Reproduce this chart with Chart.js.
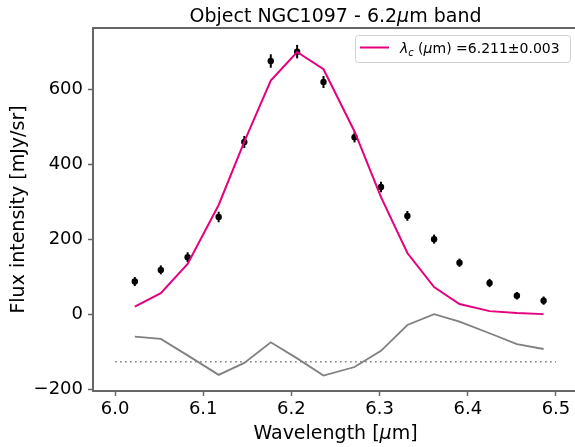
<!DOCTYPE html>
<html>
<head>
<meta charset="utf-8">
<script src="https://cdn.jsdelivr.net/npm/chart.js@4.4.1/dist/chart.umd.min.js"></script>
<style>
  html, body { margin: 0; padding: 0; background: #fff; overflow: hidden; }
  #wrap { width: 575px; height: 447px; overflow: hidden; }
</style>
</head>
<body>
<div id="wrap"><canvas id="chart" width="582" height="447"></canvas></div>
<script>
// values
const wavelengths = [6.0224, 6.0519, 6.0823, 6.1175, 6.1466, 6.1766, 6.2065, 6.2364,
                     6.2716, 6.3016, 6.3315, 6.3618, 6.3906, 6.4247, 6.4557, 6.4860];
const flux     = [87, 118, 152, 259, 459, 675, 700, 619, 472, 339, 262, 200, 137, 83, 49, 36];
const fluxErr  = [12, 12, 13, 14, 16, 18, 18, 16, 14, 14, 13, 12, 11, 11, 10, 11];
const model    = [20, 56, 134, 291, 460, 623, 699, 653, 487, 312, 163, 72, 27, 8, 3, 0];
const residual = [-60, -66, -110, -162, -130, -75, -118, -164, -141, -98, -29, 0, -20, -51, -80, -93];
const baselineX = [6.0, 6.5];
const baselineY = [-127, -127];

const xTicks = [6.0, 6.1, 6.2, 6.3, 6.4, 6.5];
const yTicks = [-200, 0, 200, 400, 600];

const FONT = 'DejaVu Sans';
const MAGENTA = '#e6007e';
const AXIS = '#666';

const pts = (xs, ys) => xs.map((v, i) => ({ x: v, y: ys[i] }));

// draw a string made of normal / italic / subscript pieces
function drawParts(ctx, parts, x, y, size, align) {
  const fontOf = p => (p.it ? 'italic ' : '') + (p.sub ? size * 0.7 : size) + 'px "' + FONT + '"';
  let total = 0;
  parts.forEach(p => { ctx.font = fontOf(p); total += ctx.measureText(p.t).width; });
  let cx = align === 'center' ? x - total / 2 : x;
  ctx.textAlign = 'left';
  ctx.textBaseline = 'alphabetic';
  parts.forEach(p => {
    ctx.font = fontOf(p);
    ctx.fillText(p.t, cx, y + (p.sub ? size * 0.22 : 0));
    cx += ctx.measureText(p.t).width;
  });
}

const errorBars = {
  id: 'errorBars',
  beforeDatasetsDraw(chart) {
    const { ctx, scales: { x, y } } = chart;
    ctx.save();
    ctx.strokeStyle = '#000';
    ctx.lineWidth = 2;
    wavelengths.forEach((w, i) => {
      const px = x.getPixelForValue(w);
      ctx.beginPath();
      ctx.moveTo(px, y.getPixelForValue(flux[i] - fluxErr[i]));
      ctx.lineTo(px, y.getPixelForValue(flux[i] + fluxErr[i]));
      ctx.stroke();
    });
    ctx.restore();
  }
};

const decorations = {
  id: 'decorations',
  afterDraw(chart) {
    const { ctx, chartArea: a } = chart;
    ctx.save();
    // the right spine sits outside the visible window in the reference
    ctx.fillStyle = '#fff';
    ctx.fillRect(571, a.top + 2, chart.width - 571, a.bottom - a.top - 4);

    // top spine
    ctx.strokeStyle = AXIS;
    ctx.lineWidth = 2;
    ctx.beginPath();
    ctx.moveTo(a.left - 1, a.top);
    ctx.lineTo(chart.width, a.top);
    ctx.stroke();

    ctx.fillStyle = '#000';
    const midX = (a.left + a.right) / 2;
    // title
    drawParts(ctx, [{ t: 'Object NGC1097 - 6.2' }, { t: 'μ', it: true }, { t: 'm band' }], midX, 21.5, 19, 'center');
    // x axis title
    drawParts(ctx, [{ t: 'Wavelength [' }, { t: 'μ', it: true }, { t: 'm]' }], midX, 438.5, 19, 'center');
    // y axis title
    ctx.save();
    ctx.translate(24, (a.top + a.bottom) / 2);
    ctx.rotate(-Math.PI / 2);
    drawParts(ctx, [{ t: 'Flux intensity [mJy/sr]' }], 0, 0, 19, 'center');
    ctx.restore();

    // legend
    const lx = 355, ly = 35, lw = 215, lh = 27;
    ctx.fillStyle = 'rgba(255,255,255,0.85)';
    ctx.strokeStyle = '#d0d0d0';
    ctx.lineWidth = 1;
    ctx.beginPath();
    ctx.roundRect(lx + 0.5, ly + 0.5, lw, lh, 3);
    ctx.fill();
    ctx.stroke();
    ctx.strokeStyle = MAGENTA;
    ctx.lineWidth = 2;
    ctx.beginPath();
    ctx.moveTo(360, 47.5);
    ctx.lineTo(389, 47.5);
    ctx.stroke();
    ctx.fillStyle = '#000';
    drawParts(ctx, [
      { t: 'λ', it: true }, { t: 'c', it: true, sub: true }, { t: ' (' },
      { t: 'μ', it: true }, { t: 'm) =6.211±0.003' }
    ], 400, 52.5, 14, 'left');
    ctx.restore();
  }
};

new Chart(document.getElementById('chart'), {
  type: 'scatter',
  data: {
    datasets: [
      {
        type: 'line',
        data: pts(wavelengths, model),
        borderColor: MAGENTA,
        borderWidth: 2,
        pointRadius: 0,
        tension: 0,
        order: 0
      },
      {
        type: 'scatter',
        data: pts(wavelengths, flux),
        backgroundColor: '#000',
        borderWidth: 0,
        pointRadius: 3.2,
        order: 1
      },
      {
        type: 'line',
        data: pts(wavelengths, residual),
        borderColor: '#808080',
        borderWidth: 1.8,
        pointRadius: 0,
        tension: 0,
        order: 2
      },
      {
        type: 'line',
        data: pts(baselineX, baselineY),
        borderColor: '#808080',
        borderWidth: 1.6,
        borderDash: [1.6, 3.4],
        pointRadius: 0,
        order: 3
      }
    ]
  },
  options: {
    responsive: false,
    animation: false,
    layout: { padding: { top: 28, right: 1, left: 0, bottom: 0 } },
    plugins: {
      legend: { display: false },
      title: { display: false },
      tooltip: { enabled: false }
    },
    scales: {
      x: {
        type: 'linear',
        min: 5.975,
        max: 6.525,
        afterBuildTicks: s => { s.ticks = xTicks.map(v => ({ value: v })); },
        afterFit: s => { s.height = 56; },
        grid: { drawOnChartArea: false, drawTicks: true, tickLength: 5, tickColor: AXIS, tickWidth: 1.5 },
        border: { display: true, color: AXIS, width: 2 },
        ticks: {
          color: '#000',
          padding: 3,
          font: { family: FONT, size: 18 },
          callback: v => v.toFixed(1)
        }
      },
      y: {
        type: 'linear',
        min: -205,
        max: 763,
        afterBuildTicks: s => { s.ticks = yTicks.map(v => ({ value: v })); },
        afterFit: s => { s.width = 93; },
        grid: { drawOnChartArea: false, drawTicks: true, tickLength: 5, tickColor: AXIS, tickWidth: 1.5 },
        border: { display: true, color: AXIS, width: 2 },
        ticks: {
          color: '#000',
          padding: 5,
          font: { family: FONT, size: 18 },
          callback: v => String(v).replace('-', '\u2212')
        }
      }
    }
  },
  plugins: [errorBars, decorations]
});
</script>
</body>
</html>
